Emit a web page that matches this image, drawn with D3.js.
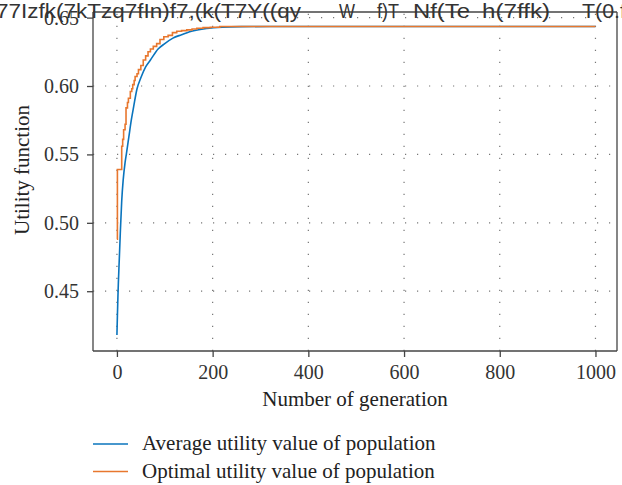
<!DOCTYPE html>
<html>
<head>
<meta charset="utf-8">
<script src="https://cdn.jsdelivr.net/npm/d3@7"></script>
<style>
  body { margin: 0; background: #fff; }
  svg { display: block; }
  .tick text { font-family: "Liberation Serif", serif; font-size: 20px; fill: #333; }
  .axis path, .axis line { stroke: #444; stroke-width: 1.3; }
</style>
</head>
<body>
<div class="chart"></div>
<script>
// values
var ticksX = [0, 200, 400, 600, 800, 1000]
  , ticksY = [0.45, 0.50, 0.55, 0.60, 0.65]
  , seriesNames = ['Average utility value of population', 'Optimal utility value of population'];

// average utility, [generation, value]
var avgUtility = [
  [0, 0.418], [1, 0.432], [2, 0.445], [3, 0.456], [5, 0.474], [7, 0.492],
  [10, 0.516], [13, 0.531], [17, 0.544], [20, 0.551], [25, 0.563], [30, 0.575],
  [35, 0.585], [42, 0.598], [50, 0.606], [60, 0.614], [70, 0.619], [86, 0.627],
  [100, 0.631], [117, 0.635], [135, 0.6375], [152, 0.6397], [187, 0.642],
  [220, 0.643], [260, 0.6434], [320, 0.6435], [1000, 0.6435]
];

// best utility so far, steps, [generation, value]
var optUtility = [
  [0, 0.488], [1, 0.539], [10, 0.556], [12, 0.561], [14, 0.568], [17, 0.572],
  [19, 0.584], [22, 0.588], [24, 0.591], [28, 0.596], [31, 0.598], [33, 0.601],
  [36, 0.604], [38, 0.607], [42, 0.609], [45, 0.612], [50, 0.615], [55, 0.619],
  [60, 0.622], [65, 0.625], [70, 0.627], [76, 0.629], [83, 0.631], [90, 0.634],
  [98, 0.636], [107, 0.637], [116, 0.639], [125, 0.640], [135, 0.6405],
  [146, 0.641], [157, 0.6417], [167, 0.6422], [180, 0.6427], [195, 0.643],
  [215, 0.6435], [1000, 0.6435]
];

// broken header text that sits across the top of the figure
var headerBits = ['77Izfk(7kTzq7fIn)f7,(k(T7Y((qy', 'W', 'f)T', 'Nf(Te', 'h(7ffk)', 'T(0.f']
  , headerX = [-4, 339, 377, 413, 482, 582]
  , headerW = [305, 16, 22, 57, 68, 44];

var w = 622
  , h = 485
  , padL = 93
  , padR = 617
  , padT = 12
  , padB = 351
  , colors = ['#0a74bd', '#e8772e'];

var svg = d3.select('.chart')
            .append('svg')
            .attr('width', w)
            .attr('height', h);

var x = d3.scaleLinear().domain([-50, 1045]).range([padL, padR])
  , y = d3.scaleLinear().domain([0.4063, 0.6541]).range([padB, padT]);

// dotted grid
var grid = svg.append('g')
  .attr('stroke', '#777')
  .attr('stroke-width', 1.2)
  .attr('stroke-dasharray', '1.2,10.8');

grid.selectAll('line.gx')
  .data(ticksX)
  .enter()
  .append('line')
  .attr('x1', function (d) { return x(d); })
  .attr('x2', function (d) { return x(d); })
  .attr('y1', padB)
  .attr('y2', padT);

grid.selectAll('line.gy')
  .data(ticksY)
  .enter()
  .append('line')
  .attr('x1', padL)
  .attr('x2', padR)
  .attr('y1', function (d) { return y(d); })
  .attr('y2', function (d) { return y(d); });

// curves
var avgLine = d3.line()
  .x(function (d) { return x(d[0]); })
  .y(function (d) { return y(d[1]); })
  .curve(d3.curveMonotoneX);

var optLine = d3.line()
  .x(function (d) { return x(d[0]); })
  .y(function (d) { return y(d[1]); })
  .curve(d3.curveStepAfter);

svg.append('path')
  .datum(avgUtility)
  .attr('fill', 'none')
  .attr('stroke', colors[0])
  .attr('stroke-width', 1.6)
  .attr('d', avgLine);

// orange sits on top of blue once both flatten out
svg.append('path')
  .datum(optUtility)
  .attr('fill', 'none')
  .attr('stroke', colors[1])
  .attr('stroke-width', 1.6)
  .attr('d', optLine);

// axes
var xAxis = svg.append('g')
  .attr('class', 'axis')
  .attr('transform', 'translate(0,' + padB + ')')
  .call(d3.axisBottom(x).tickValues(ticksX).tickSize(6).tickPadding(8).tickFormat(d3.format('d')));

var yAxis = svg.append('g')
  .attr('class', 'axis')
  .attr('transform', 'translate(' + padL + ',0)')
  .call(d3.axisLeft(y).tickValues(ticksY).tickSize(6).tickPadding(8).tickFormat(d3.format('.2f')));

xAxis.select('.domain').attr('d', 'M' + padL + ',0H' + padR);
yAxis.select('.domain').attr('d', 'M0,' + padB + 'V' + padT);

// box edges top and right
svg.append('line')
  .attr('x1', padL).attr('x2', padR)
  .attr('y1', padT).attr('y2', padT)
  .attr('stroke', '#444').attr('stroke-width', 1.3);

svg.append('line')
  .attr('x1', padR).attr('x2', padR)
  .attr('y1', padT).attr('y2', padB)
  .attr('stroke', '#444').attr('stroke-width', 1.3);

// header text
svg.selectAll('text.hdr')
  .data(headerBits)
  .enter()
  .append('text')
  .attr('class', 'hdr')
  .attr('x', function (d, i) { return headerX[i]; })
  .attr('y', 18)
  .attr('textLength', function (d, i) { return headerW[i]; })
  .attr('lengthAdjust', 'spacingAndGlyphs')
  .attr('font-family', '"Liberation Sans", Arial, sans-serif')
  .attr('font-size', 21)
  .attr('fill', '#333')
  .text(function (d) { return d; });

// axis labels
svg.append('text')
  .attr('x', (padL + padR) / 2)
  .attr('y', 406)
  .attr('text-anchor', 'middle')
  .attr('font-family', '"Liberation Serif", serif')
  .attr('font-size', 21)
  .attr('fill', '#222')
  .text('Number of generation');

svg.append('text')
  .attr('transform', 'translate(29,170) rotate(-90)')
  .attr('text-anchor', 'middle')
  .attr('font-family', '"Liberation Serif", serif')
  .attr('font-size', 21)
  .attr('fill', '#222')
  .text('Utility function');

// legend
var legend = svg.selectAll('g.legend')
  .data(seriesNames)
  .enter()
  .append('g')
  .attr('transform', function (d, i) { return 'translate(93,' + (444 + i * 27.5) + ')'; });

legend.append('line')
  .attr('x1', 0).attr('x2', 35)
  .attr('stroke', function (d, i) { return colors[i]; })
  .attr('stroke-width', 1.4);

legend.append('text')
  .attr('x', 49)
  .attr('y', 6)
  .attr('font-family', '"Liberation Serif", serif')
  .attr('font-size', 21)
  .attr('fill', '#222')
  .text(function (d) { return d; });
</script>
</body>
</html>
